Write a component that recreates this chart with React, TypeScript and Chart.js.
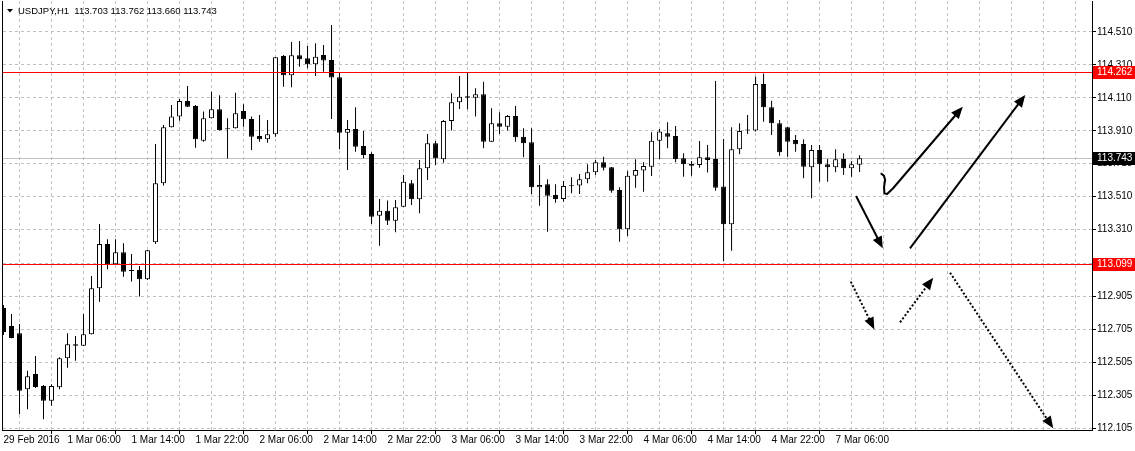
import React, { useEffect, useRef } from 'react';
import { Chart, registerables } from 'chart.js';

Chart.register(...registerables);

// ---- data ----
const timeLabels = [
  '29 Feb 2016', '1 Mar 06:00', '1 Mar 14:00', '1 Mar 22:00', '2 Mar 06:00', '2 Mar 14:00',
  '2 Mar 22:00', '3 Mar 06:00', '3 Mar 14:00', '3 Mar 22:00', '4 Mar 06:00', '4 Mar 14:00',
  '4 Mar 22:00', '7 Mar 06:00',
];

const opens = [
  112.834, 112.725, 112.680, 112.340, 112.433, 112.360, 112.271, 112.352, 112.528, 112.613,
  112.605, 112.674, 112.953, 113.222, 113.099, 113.172, 113.063, 113.065, 113.008, 113.233,
  113.591, 113.931, 113.996, 114.091, 114.061, 113.850, 113.986, 114.041, 113.925, 113.925,
  114.030, 113.982, 113.878, 113.858, 113.889, 114.364, 114.247, 114.369, 114.350, 114.314,
  114.370, 114.340, 114.235, 113.898, 113.921, 113.818, 113.769, 113.394, 113.425, 113.364,
  113.449, 113.591, 113.494, 113.682, 113.834, 113.737, 113.970, 114.083, 114.120, 114.111,
  114.132, 113.844, 113.956, 113.935, 114.000, 113.874, 113.840, 113.567, 113.585, 113.520,
  113.496, 113.577, 113.577, 113.615, 113.658, 113.719, 113.688, 113.550, 113.312, 113.637,
  113.668, 113.692, 113.850, 113.895, 113.878, 113.743, 113.708, 113.702, 113.749, 113.739,
  113.571, 113.342, 113.798, 113.911, 113.911, 114.194, 114.053, 113.956, 113.931, 113.854,
  113.830, 113.688, 113.793, 113.707, 113.688, 113.739, 113.682, 113.703,
];
const highs = [
  112.852, 112.797, 112.737, 112.453, 112.542, 112.366, 112.371, 112.534, 112.680, 112.664,
  112.797, 113.028, 113.344, 113.251, 113.251, 113.227, 113.162, 113.089, 113.186, 113.830,
  113.945, 114.067, 114.103, 114.182, 114.067, 114.027, 114.147, 114.126, 113.986, 114.141,
  114.071, 113.996, 114.006, 113.976, 114.358, 114.370, 114.449, 114.455, 114.425, 114.441,
  114.431, 114.552, 114.263, 113.976, 114.053, 113.909, 113.779, 113.496, 113.486, 113.490,
  113.642, 113.611, 113.733, 113.891, 113.848, 113.976, 114.138, 114.243, 114.263, 114.168,
  114.208, 114.047, 114.022, 114.006, 114.061, 113.925, 113.925, 113.702, 113.615, 113.585,
  113.605, 113.628, 113.648, 113.707, 113.733, 113.753, 113.690, 113.567, 113.666, 113.737,
  113.719, 113.901, 113.921, 113.962, 113.939, 113.773, 113.727, 113.848, 113.824, 114.212,
  113.860, 113.931, 113.956, 114.006, 114.239, 114.258, 114.093, 113.976, 113.935, 113.884,
  113.858, 113.824, 113.824, 113.739, 113.798, 113.773, 113.727, 113.762,
];
const lows = [
  112.670, 112.650, 112.188, 112.219, 112.348, 112.158, 112.240, 112.340, 112.471, 112.514,
  112.603, 112.673, 112.872, 113.069, 113.095, 113.024, 112.994, 112.903, 113.004, 113.222,
  113.577, 113.930, 113.971, 114.054, 113.807, 113.844, 113.985, 113.911, 113.741, 113.924,
  113.935, 113.793, 113.844, 113.838, 113.874, 114.178, 114.174, 114.299, 114.290, 114.243,
  114.269, 113.982, 113.798, 113.672, 113.783, 113.743, 113.344, 113.212, 113.338, 113.294,
  113.447, 113.459, 113.409, 113.611, 113.702, 113.716, 113.911, 114.042, 114.041, 113.996,
  113.804, 113.842, 113.891, 113.911, 113.844, 113.749, 113.526, 113.455, 113.297, 113.473,
  113.479, 113.530, 113.526, 113.591, 113.642, 113.668, 113.534, 113.236, 113.271, 113.564,
  113.540, 113.635, 113.739, 113.804, 113.719, 113.631, 113.637, 113.686, 113.656, 113.546,
  113.119, 113.182, 113.767, 113.891, 113.905, 113.965, 113.884, 113.759, 113.753, 113.783,
  113.621, 113.500, 113.601, 113.601, 113.658, 113.642, 113.631, 113.660,
];
const closes = [
  112.688, 112.652, 112.332, 112.419, 112.354, 112.271, 112.360, 112.528, 112.613, 112.605,
  112.674, 112.953, 113.222, 113.099, 113.172, 113.054, 113.059, 113.008, 113.184, 113.591,
  113.931, 113.996, 114.091, 114.056, 113.858, 113.986, 114.041, 113.915, 113.919, 114.016,
  113.980, 113.874, 113.858, 113.889, 114.356, 114.247, 114.369, 114.344, 114.314, 114.360,
  114.336, 114.233, 113.898, 113.921, 113.813, 113.763, 113.388, 113.425, 113.364, 113.445,
  113.601, 113.494, 113.682, 113.834, 113.743, 113.970, 114.083, 114.117, 114.111, 114.132,
  113.844, 113.956, 113.935, 114.000, 113.871, 113.834, 113.567, 113.581, 113.516, 113.496,
  113.575, 113.573, 113.615, 113.658, 113.719, 113.686, 113.546, 113.312, 113.637, 113.672,
  113.696, 113.850, 113.905, 113.874, 113.739, 113.707, 113.698, 113.749, 113.733, 113.564,
  113.342, 113.798, 113.909, 113.913, 114.194, 114.053, 113.956, 113.779, 113.844, 113.828,
  113.692, 113.793, 113.707, 113.688, 113.737, 113.682, 113.707, 113.743,
];

const yTickValues = [
  114.510, 114.310, 114.110, 113.910, 113.710, 113.510, 113.310, 113.105,
  112.905, 112.705, 112.505, 112.305, 112.105,
];
const levelLines = [114.262, 113.099];
const bidPrice = 113.743;
const headerText = 'USDJPY,H1  113.703 113.762 113.660 113.743';
const yRange = [112.093, 114.698];
const xRange = [-0.0625, 136.05];

// hand-drawn arrows, in (bar index, price) coordinates
const solidArrows: number[][][] = [
  [[106.56, 113.514], [109.9, 113.196]],
  [[109.65, 113.652], [110.06, 113.636], [110.19, 113.611], [110.06, 113.569], [110.1, 113.530],
   [110.44, 113.526], [111.19, 113.561], [119.9, 114.056]],
  [[113.3, 113.196], [127.7, 114.127]],
];
const dottedArrows: number[][][] = [
  [[105.9, 112.994], [108.85, 112.704]],
  [[112.06, 112.747], [116.2, 113.018]],
  [[118.31, 113.048], [131.2, 112.103]],
];

const FONT = 'Liberation Sans, Arial, sans-serif';

function drawArrow(chart: any, pts: number[][], dotted: boolean) {
  const { ctx, scales } = chart;
  const p = pts.map(([xv, yv]) => [scales.x.getPixelForValue(xv), scales.y.getPixelForValue(yv)]);
  const n = p.length;
  const [tx, ty] = p[n - 1];
  const [fx, fy] = p[n - 2];
  const len = Math.hypot(tx - fx, ty - fy);
  const ux = (tx - fx) / len;
  const uy = (ty - fy) / len;
  const headL = 12;
  const headW = 5;
  ctx.save();
  ctx.strokeStyle = '#000';
  ctx.fillStyle = '#000';
  ctx.lineWidth = 2;
  ctx.lineJoin = 'round';
  ctx.setLineDash(dotted ? [2, 2] : []);
  ctx.beginPath();
  ctx.moveTo(p[0][0], p[0][1]);
  for (let i = 1; i < n - 1; i++) ctx.lineTo(p[i][0], p[i][1]);
  ctx.lineTo(tx - ux * headL * 0.8, ty - uy * headL * 0.8);
  ctx.stroke();
  ctx.setLineDash([]);
  ctx.beginPath();
  ctx.moveTo(tx, ty);
  ctx.lineTo(tx - ux * headL - uy * headW, ty - uy * headL + ux * headW);
  ctx.lineTo(tx - ux * headL + uy * headW, ty - uy * headL - ux * headW);
  ctx.closePath();
  ctx.fill();
  ctx.restore();
}

function priceBox(chart: any, value: number, bg: string) {
  const { ctx, chartArea: a, scales } = chart;
  const py = Math.floor(scales.y.getPixelForValue(value));
  ctx.save();
  ctx.fillStyle = bg;
  ctx.fillRect(a.right + 1, py - 6, 42, 13);
  ctx.fillStyle = '#fff';
  ctx.font = `10px ${FONT}`;
  ctx.textBaseline = 'middle';
  ctx.textAlign = 'left';
  ctx.fillText(value.toFixed(3), a.right + 5, py + 0.5);
  ctx.restore();
}

const overlayPlugin = {
  id: 'mt4overlay',
  beforeDatasetsDraw(chart: any) {
    const { ctx, chartArea: a, scales } = chart;
    const py = Math.floor(scales.y.getPixelForValue(bidPrice));
    ctx.save();
    ctx.fillStyle = '#c0c0c0';
    ctx.fillRect(a.left, py, a.right - a.left, 1);
    ctx.restore();
  },
  afterDatasetsDraw(chart: any) {
    solidArrows.forEach((pts) => drawArrow(chart, pts, false));
    dottedArrows.forEach((pts) => drawArrow(chart, pts, true));
  },
  afterDraw(chart: any) {
    const { ctx, chartArea: a, scales } = chart;
    ctx.save();
    ctx.globalAlpha = 1;
    ctx.setLineDash([]);
    levelLines.forEach((v) => {
      const py = Math.floor(scales.y.getPixelForValue(v));
      ctx.fillStyle = '#ff0000';
      ctx.fillRect(a.left, py, a.right - a.left, 1);
    });
    ctx.fillStyle = '#000';
    ctx.fillRect(a.left - 1, a.top, 1, a.bottom - a.top + 1);
    ctx.restore();

    levelLines.forEach((v) => priceBox(chart, v, '#ff0000'));
    priceBox(chart, bidPrice, '#000000');

    // header
    ctx.save();
    ctx.fillStyle = '#000';
    ctx.beginPath();
    ctx.moveTo(7, 9);
    ctx.lineTo(13, 9);
    ctx.lineTo(10, 12.5);
    ctx.closePath();
    ctx.fill();
    ctx.font = `9.5px ${FONT}`;
    ctx.textBaseline = 'middle';
    ctx.textAlign = 'left';
    ctx.fillText(headerText, 18, 11);
    ctx.restore();
  },
};

export default function App() {
  const ref = useRef<HTMLCanvasElement>(null);

  useEffect(() => {
    document.body.style.margin = '0';
    const idx = opens.map((_, i) => i);
    const chart = new Chart(ref.current as HTMLCanvasElement, {
      type: 'bar',
      data: {
        datasets: [
          {
            label: 'body',
            data: idx.map((i) => ({ x: i, y: [opens[i], closes[i]] })) as any,
            backgroundColor: idx.map((i) => (closes[i] >= opens[i] ? '#ffffff' : '#000000')),
            borderColor: '#000000',
            borderWidth: 1,
            borderSkipped: false,
            grouped: false,
            categoryPercentage: 1,
            barPercentage: 1,
            maxBarThickness: 5,
            minBarLength: 1,
            inflateAmount: 0,
            order: 0,
          } as any,
          {
            label: 'wick',
            data: idx.map((i) => ({ x: i, y: [lows[i], highs[i]] })) as any,
            backgroundColor: '#000000',
            borderWidth: 0,
            grouped: false,
            categoryPercentage: 1,
            barPercentage: 1,
            maxBarThickness: 1,
            inflateAmount: 0,
            order: 1,
          } as any,
        ],
      },
      options: {
        responsive: false,
        animation: false,
        devicePixelRatio: 1,
        events: [],
        layout: { padding: { left: 3, top: 1, right: 0, bottom: 0 } },
        plugins: { legend: { display: false }, tooltip: { enabled: false }, title: { display: false } },
        scales: {
          x: {
            type: 'linear',
            position: 'bottom',
            min: xRange[0],
            max: xRange[1],
            offset: false,
            afterBuildTicks: (s: any) => {
              const t = [];
              for (let v = 0; v <= 136; v += 4) t.push({ value: v });
              s.ticks = t;
            },
            afterFit: (s: any) => {
              s.height = 21;
              s.paddingLeft = 0;
              s.paddingRight = 0;
            },
            grid: {
              color: '#c0c0c0',
              lineWidth: 1,
              drawTicks: true,
              tickLength: 4,
              tickBorderDash: [],
              tickColor: (c: any) =>
                c.tick && c.tick.value % 8 === 0 && timeLabels[c.tick.value / 8] ? '#000000' : 'rgba(0,0,0,0)',
            },
            border: { display: true, color: '#000000', width: 1, dash: [3, 3] },
            ticks: {
              autoSkip: false,
              maxRotation: 0,
              minRotation: 0,
              align: 'start',
              padding: 0,
              color: '#000000',
              font: { family: FONT, size: 10 },
              callback: (v: any) => (v % 8 === 0 && timeLabels[v / 8] ? timeLabels[v / 8] : ''),
            },
          } as any,
          y: {
            type: 'linear',
            position: 'right',
            min: yRange[0],
            max: yRange[1],
            afterBuildTicks: (s: any) => {
              s.ticks = yTickValues.map((v) => ({ value: v }));
            },
            afterFit: (s: any) => {
              s.width = 43;
              s.paddingTop = 0;
              s.paddingBottom = 0;
            },
            grid: {
              color: '#c0c0c0',
              lineWidth: 1,
              tickLength: 4,
              tickColor: '#000000',
              tickBorderDash: [],
            },
            border: { display: true, color: '#000000', width: 1, dash: [3, 3] },
            ticks: {
              autoSkip: false,
              padding: 1,
              color: '#000000',
              font: { family: FONT, size: 10 },
              callback: (v: any) => Number(v).toFixed(3),
            },
          } as any,
        },
      },
      plugins: [overlayPlugin],
    });
    return () => chart.destroy();
  }, []);

  return (
    <div style={{ width: 1135, height: 451, background: '#ffffff' }}>
      <canvas ref={ref} width={1135} height={451} style={{ display: 'block' }} />
    </div>
  );
}
